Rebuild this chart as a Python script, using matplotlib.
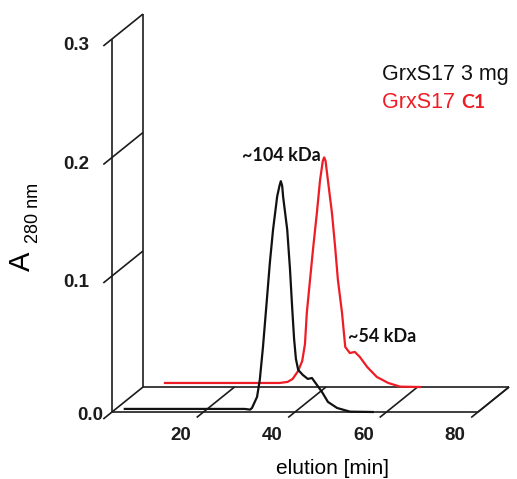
import numpy as np
import matplotlib.pyplot as plt
from matplotlib.transforms import Affine2D, offset_copy

# black trace (GrxS17 3 mg), front plane
black_min = [2.8, 29.0, 30.2, 30.6, 31.7, 32.3, 33.0, 33.9, 34.5, 35.2, 36.1, 36.6,
             36.9, 37.2, 37.4, 38.3, 38.9, 39.4, 39.8, 40.2, 40.7, 41.7, 42.8, 43.7,
             44.8, 45.9, 47.2, 49.2, 52.0, 57.0]
black_abs = [-0.0122, -0.0122, -0.0128, -0.0114, -0.0021, 0.0122, 0.040, 0.0823, 0.111,
             0.139, 0.167, 0.176, 0.180, 0.176, 0.167, 0.139, 0.106, 0.072, 0.047, 0.030,
             0.0207, 0.0165, 0.0131, 0.0139, 0.0080, 0.0021, -0.0063, -0.0114, -0.0145,
             -0.0148]

# red trace (GrxS17 C1), back plane
red_min = [4.8, 29.9, 31.6, 32.7, 33.9, 34.8, 35.4, 35.8, 36.5, 37.2, 38.0, 38.7, 39.3,
           39.6, 39.9, 40.4, 41.3, 42.0, 42.6, 43.5, 44.2, 45.2, 46.3, 47.4, 49.0,
           51.1, 53.6, 56.2, 60.5]
red_abs = [-0.0114, -0.0114, -0.0105, -0.0080, -0.0013, 0.0072, 0.0215, 0.0477, 0.0755,
           0.103, 0.132, 0.160, 0.176, 0.179, 0.176, 0.160, 0.132, 0.103, 0.0755, 0.0477,
           0.019, 0.0139, 0.0148, 0.0105, 0.0021, -0.0063, -0.0114, -0.0145, -0.0148]

xticks = [20, 40, 60, 80]
yticks = [0.1, 0.2, 0.3]
floor = -0.0148          # drawn level of the "0.0" label
xmax, ymax = 80, 0.3

# depth of the pseudo-3D box (data units)
dx, dy = 6.78, 0.0211

frame_c = '#1c1c1c'
red_c = '#ee1d25'

plt.rcParams['font.family'] = ['Liberation Sans', 'DejaVu Sans']

fig = plt.figure(figsize=(5.17, 4.79), dpi=100)
ax = fig.add_axes([112/517, 67/479, 366/517, 373/479])
ax.set_xlim(0, xmax)
ax.set_ylim(floor, ymax)
ax.axis('off')

back = Affine2D().translate(dx, dy) + ax.transData
kw = dict(color=frame_c, lw=1.2, clip_on=False, solid_capstyle='butt')

# front and back planes
ax.plot([0, 0, xmax], [ymax, floor, floor], **kw)
ax.plot([0, 0, xmax], [ymax, floor, floor], transform=back, **kw)
ax.plot([xmax, xmax + dx], [floor, floor + dy], **kw)

# y ticks as depth lines
for v in [floor] + yticks:
    ax.plot([-0.28 * dx, dx], [v - 0.28 * dy, v + dy], **kw)
# x ticks as depth lines
for v in xticks:
    ax.plot([v - 0.22 * dx, v + dx], [floor - 0.22 * dy, floor + dy], **kw)

# tick labels
tfont = dict(fontsize=13.5, fontweight='bold', color=frame_c)
for v in yticks:
    ax.text(0, v, f'{v:.1f}', ha='right', va='center',
            transform=offset_copy(ax.transData, fig=fig, x=-23, y=-7, units='dots'), **tfont)
ax.text(0, floor, '0.0', ha='right', va='center',
        transform=offset_copy(ax.transData, fig=fig, x=-9, y=-3, units='dots'), **tfont)
for v in xticks:
    ax.text(v, floor, str(v), ha='center', va='center',
            transform=offset_copy(ax.transData, fig=fig, x=-23, y=-24, units='dots'), **tfont)

# curves
ax.plot(red_min, red_abs, color=red_c, lw=1.6, transform=back, clip_on=False)
ax.plot(black_min, black_abs, color='#111111', lw=1.6, clip_on=False)

# peak annotations
afont = dict(family='Lato', fontweight='bold', fontsize=13, color='#111111')
ax.text(28.4, 0.202, '~104 kDa', ha='left', va='center', **afont)
ax.text(51.6, 0.0485, '~54 kDa', ha='left', va='center', **afont)

# legend
t1 = ax.text(59.0, 0.270, 'GrxS17 3 mg', fontsize=15.5, color='#111111',
             ha='left', va='center', clip_on=False)
t2 = ax.text(59.0, 0.246, 'GrxS17 ', fontsize=15.5, color=red_c,
             ha='left', va='center', clip_on=False)
ax.annotate('C1', xy=(1, 0.5), xycoords=t2, ha='left', va='center',
            family='Lato', fontweight='bold', fontsize=14, color=red_c)

# axis titles
fig.text(22/517, 1 - 261/479, 'A', rotation=90, fontsize=21, ha='center', va='center')
fig.text(34/517, 1 - 213/479, '280 nm', rotation=90, fontsize=13, ha='center', va='center')
fig.text(332/517, 1 - 468/479, 'elution [min]', fontsize=15, ha='center', va='center')

fig.savefig('out.png', dpi=100)
